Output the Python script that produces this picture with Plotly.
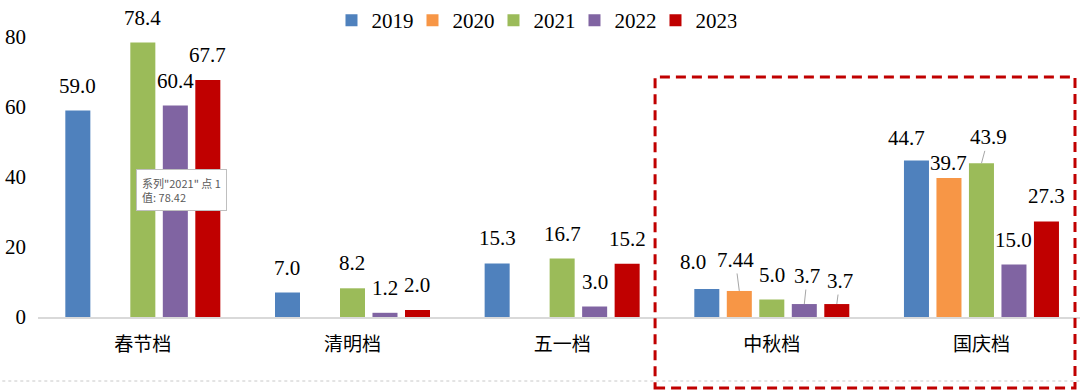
import plotly.graph_objects as go

categories = ["春节档", "清明档", "五一档", "中秋档", "国庆档"]
series_names = ["2019", "2020", "2021", "2022", "2023"]
v2019 = [59.0, 7.0, 15.3, 8.0, 44.7]
v2020 = [None, None, None, 7.44, 39.7]
v2021 = [78.42, 8.2, 16.7, 5.0, 43.9]
v2022 = [60.4, 1.2, 3.0, 3.7, 15.0]
v2023 = [67.7, 2.0, 15.2, 3.7, 27.3]
labels2019 = ["59.0", "7.0", "15.3", "8.0", "44.7"]
labels2020 = [None, None, None, "7.44", "39.7"]
labels2021 = ["78.4", "8.2", "16.7", "5.0", "43.9"]
labels2022 = ["60.4", "1.2", "3.0", "3.7", "15.0"]
labels2023 = ["67.7", "2.0", "15.2", "3.7", "27.3"]
y_ticks = [0, 20, 40, 60, 80]

values = [v2019, v2020, v2021, v2022, v2023]
labels = [labels2019, labels2020, labels2021, labels2022, labels2023]
colors = ["#4f81bd", "#f79646", "#9bbb59", "#8064a2", "#c00000"]

BARGAP = 0.225
SERIF = "Liberation Serif"
CJK = "Noto Sans CJK SC"

fig = go.Figure()
for name, vals, col in zip(series_names, values, colors):
    fig.add_trace(go.Bar(name=name, x=categories, y=vals, marker=dict(color=col, line=dict(width=0))))

# label placement tweaks: (category index, series index) -> (ax, ay, leader line)
default_off = (0, -25, False)
tweaks = {
    (3, 0): (-14, -27, False),
    (3, 1): (-4, -31, True),
    (3, 3): (3, -28, True),
    (3, 4): (3, -23, True),
    (4, 0): (-10, -23, False),
    (4, 1): (0, -15, False),
    (4, 2): (7, -26, True),
}

slot = (1 - BARGAP) / len(series_names)
annotations = []
for j, (vals, labs) in enumerate(zip(values, labels)):
    for i, (v, lab) in enumerate(zip(vals, labs)):
        if v is None:
            continue
        ax, ay, leader = tweaks.get((i, j), default_off)
        annotations.append(dict(
            x=i + (j - 2) * slot, y=v, xref="x", yref="y",
            text=lab, showarrow=True, ax=ax, ay=ay,
            arrowhead=0, arrowwidth=1,
            arrowcolor="#a6a6a6" if leader else "rgba(0,0,0,0)",
            font=dict(family=SERIF, size=21, color="#000000"),
        ))

# Excel-style tooltip
annotations.append(dict(
    xref="paper", yref="paper", x=0.0943, y=0.467, xanchor="left", yanchor="top",
    text='系列"2021" 点 1<br>值: 78.42', align="left", showarrow=False,
    font=dict(family="Noto Sans CJK SC", size=11, color="#595959"),
    bgcolor="#ffffff", bordercolor="#bfbfbf", borderwidth=1, borderpad=5,
))

fig.update_layout(
    width=1080, height=392,
    margin=dict(l=38, r=0, t=0, b=75),
    barmode="group", bargap=BARGAP, bargroupgap=0.23,
    plot_bgcolor="#ffffff", paper_bgcolor="#ffffff",
    showlegend=True,
    legend=dict(orientation="h", x=0.476, xanchor="center", y=1.0, yanchor="top",
                font=dict(family=SERIF, size=21, color="#000000"),
                itemwidth=30, entrywidth=36, entrywidthmode="pixels",
                bgcolor="rgba(0,0,0,0)"),
    xaxis=dict(range=[-0.5, 4.47], showline=True, linecolor="#d9d9d9", linewidth=2,
               showgrid=False, ticks="", ticklabelstandoff=9,
               tickfont=dict(family=CJK, size=19, color="#000000")),
    yaxis=dict(range=[0, 90.57], tickvals=y_ticks, showgrid=False, zeroline=False,
               showline=False, ticks="", ticklabelstandoff=11,
               tickfont=dict(family=SERIF, size=21, color="#000000")),
    annotations=annotations,
    shapes=[
        dict(type="line", xref="paper", yref="paper", x0=-0.04, x1=1.0, y0=-0.2019, y1=-0.2019,
             line=dict(color="#c8c8c8", width=1, dash="dot")),
        dict(type="rect", xref="paper", yref="paper", x0=0.5922, x1=0.9952, y0=-0.224, y1=0.757,
             line=dict(color="#c00000", width=3, dash="10px,6px")),
    ],
)

fig.write_html("out.html", config={"displayModeBar": False},
               post_script="document.body.style.margin='0';document.body.style.overflow='hidden';")
